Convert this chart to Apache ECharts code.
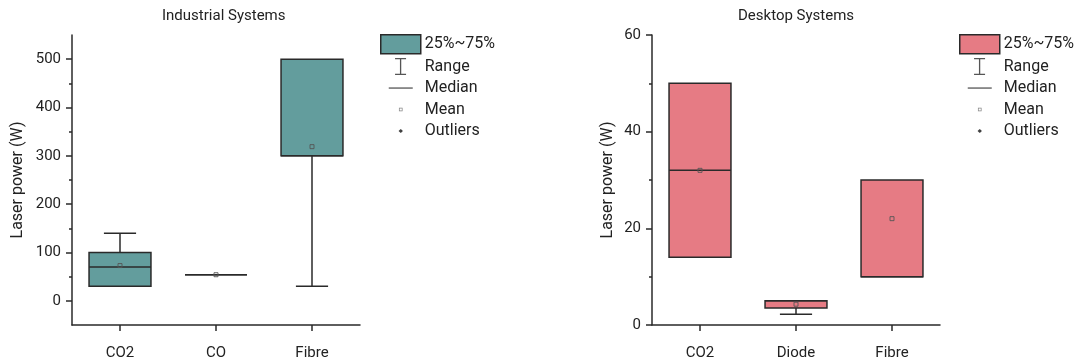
<!DOCTYPE html>
<html>
<head>
<meta charset="utf-8">
<script src="https://cdn.jsdelivr.net/npm/echarts@6.0.0/dist/echarts.min.js"></script>
<style>
html,body{margin:0;padding:0;background:#fff;}
#chart{width:1085px;height:363px;}
</style>
</head>
<body>
<div id="chart"></div>
<script>
// ---- data ----
const industrialCategories = ['CO2', 'CO', 'Fibre'];
const industrialMin    = [30, 54, 30];
const industrialQ1     = [30, 54, 300];
const industrialMedian = [70, 54, 300];
const industrialQ3     = [100, 54, 500];
const industrialMax    = [140, 54, 500];
const industrialMean   = [73, 54, 319];

const desktopCategories = ['CO2', 'Diode', 'Fibre'];
const desktopMin    = [14, 2.2, 10];
const desktopQ1     = [14, 3.5, 10];
const desktopMedian = [32, 5, 10];
const desktopQ3     = [50, 5, 30];
const desktopMax    = [50, 5, 30];
const desktopMean   = [32, 4.3, 22];

const industrialLabelTicks = [0, 100, 200, 300, 400, 500];
const industrialMinorTicks = [50, 150, 250, 350, 450];
const desktopLabelTicks = [0, 20, 40, 60];
const desktopMinorTicks = [10, 30, 50];

const legendNames = ['25%~75%', 'Range', 'Median', 'Mean', 'Outliers'];

// ---- styles ----
const TEAL = '#639d9d';
const PINK = '#e67b84';
const INK = '#2a2a2a';
const FONT = 'Roboto';

function buildRows(mins, q1s, meds, q3s, maxs, means) {
  return mins.map((m, i) => [i, m, q1s[i], meds[i], q3s[i], maxs[i], means[i]]);
}

function makeRenderer(color) {
  return function (params, api) {
    const x = api.value(0);
    const vMin = api.value(1), vQ1 = api.value(2), vMed = api.value(3),
          vQ3 = api.value(4), vMax = api.value(5), vMean = api.value(6);
    const band = api.size([1, 0])[0];
    const bw = band * 0.645, cw = band * 0.335;
    const pMin = api.coord([x, vMin]), pQ1 = api.coord([x, vQ1]), pMed = api.coord([x, vMed]),
          pQ3 = api.coord([x, vQ3]), pMax = api.coord([x, vMax]), pMean = api.coord([x, vMean]);
    const cx = pQ1[0];
    const ls = { stroke: INK, lineWidth: 1.5, fill: null };
    const ch = [];
    if (vMax > vQ3) {
      ch.push({ type: 'line', shape: { x1: cx, y1: pQ3[1], x2: cx, y2: pMax[1] }, style: ls });
      ch.push({ type: 'line', shape: { x1: cx - cw / 2, y1: pMax[1], x2: cx + cw / 2, y2: pMax[1] }, style: ls });
    }
    if (vMin < vQ1) {
      ch.push({ type: 'line', shape: { x1: cx, y1: pQ1[1], x2: cx, y2: pMin[1] }, style: ls });
      ch.push({ type: 'line', shape: { x1: cx - cw / 2, y1: pMin[1], x2: cx + cw / 2, y2: pMin[1] }, style: ls });
    }
    ch.push({ type: 'rect', shape: { x: cx - bw / 2, y: pQ3[1], width: bw, height: pQ1[1] - pQ3[1] },
              style: { fill: color, stroke: INK, lineWidth: 1.5 } });
    ch.push({ type: 'line', shape: { x1: cx - bw / 2, y1: pMed[1], x2: cx + bw / 2, y2: pMed[1] }, style: ls });
    ch.push({ type: 'rect', shape: { x: cx - 2, y: pMean[1] - 2, width: 4, height: 4 },
              style: { fill: null, stroke: '#555', lineWidth: 0.9 } });
    return { type: 'group', children: ch };
  };
}

const axisLineStyle = { color: INK, width: 1.5 };
const labelStyle = { color: '#222', fontSize: 15, fontFamily: FONT };

function legendFor(left, color) {
  return {
    orient: 'vertical', left: left, top: 34, padding: 0,
    itemWidth: 40, itemHeight: 19, itemGap: 2.5, selectedMode: false,
    textStyle: { color: '#222', fontSize: 16, fontFamily: FONT, padding: [0, 0, 0, -1] },
    data: [
      { name: legendNames[0], icon: 'rect', itemStyle: { color: color, borderColor: INK, borderWidth: 1.5 } },
      { name: legendNames[1], icon: 'path://M0 0M40 19M14.3 1h11v1.3h-11zM19.2 1.5h1.3v16h-1.3zM14.3 16.8h11v1.3h-11z', itemStyle: { color: INK, borderWidth: 0 } },
      { name: legendNames[2], icon: 'path://M0 0M40 19M8 8.9h24v1.3h-24z', itemStyle: { color: INK, borderWidth: 0 } },
      { name: legendNames[3], icon: 'path://M0 0M40 19M18.2 7.7h3.6v3.6h-3.6zM18.9 8.4v2.2h2.2v-2.2z', itemStyle: { color: '#666', borderWidth: 0 } },
      { name: legendNames[4], icon: 'path://M0 0M40 19M20 7.4L22.2 9.5L20 11.6L17.8 9.5z', itemStyle: { color: '#111', borderWidth: 0 } }
    ]
  };
}

function valueAxis(grid, min, max, interval, labels, name, nameGap) {
  return {
    type: 'value', gridIndex: grid, position: 'left', min: min, max: max, interval: interval,
    name: name, nameLocation: 'middle', nameGap: nameGap,
    nameTextStyle: { color: '#222', fontSize: 16, fontFamily: FONT },
    axisLine: { show: true, onZero: false, lineStyle: axisLineStyle },
    axisTick: { show: true, inside: false, length: 6, lineStyle: axisLineStyle, customValues: labels },
    axisLabel: { margin: 11, customValues: labels, ...labelStyle },
    splitLine: { show: false }
  };
}
function minorAxis(grid, min, max, interval, ticks) {
  return {
    type: 'value', gridIndex: grid, position: 'left', min: min, max: max, interval: interval,
    axisLine: { show: false, onZero: false },
    axisTick: { show: true, length: 3, lineStyle: axisLineStyle, customValues: ticks },
    axisLabel: { show: false },
    splitLine: { show: false }
  };
}
function catAxis(grid, cats) {
  return {
    type: 'category', gridIndex: grid, data: cats, boundaryGap: true, position: 'bottom',
    axisLine: { show: true, onZero: false, lineStyle: axisLineStyle },
    axisTick: { show: true, alignWithLabel: true, length: 6, lineStyle: axisLineStyle },
    axisLabel: { margin: 21, ...labelStyle },
    splitLine: { show: false }
  };
}

const chart = echarts.init(document.getElementById('chart'), null, { renderer: 'canvas' });
chart.setOption({
  animation: false,
  backgroundColor: '#fff',
  title: [
    { text: 'Industrial Systems', left: 162, top: 9, padding: 0,
      textStyle: { color: '#222', fontSize: 15, fontWeight: 'normal', fontFamily: FONT } },
    { text: 'Desktop Systems', left: 738, top: 9, padding: 0,
      textStyle: { color: '#222', fontSize: 15, fontWeight: 'normal', fontFamily: FONT } }
  ],
  legend: [legendFor(380, TEAL), legendFor(959, PINK)],
  grid: [
    { left: 72, top: 35, width: 288, height: 290 },
    { left: 652, top: 35, width: 288, height: 290 }
  ],
  xAxis: [catAxis(0, industrialCategories), catAxis(1, desktopCategories)],
  yAxis: [
    valueAxis(0, -50, 550, 50, industrialLabelTicks, 'Laser power (W)', 46),
    valueAxis(1, 0, 60, 10, desktopLabelTicks, 'Laser power (W)', 36),
    minorAxis(0, -50, 550, 50, industrialMinorTicks),
    minorAxis(1, 0, 60, 10, desktopMinorTicks)
  ],
  series: [
    { type: 'custom', name: legendNames[0], xAxisIndex: 0, yAxisIndex: 0, color: TEAL,
      renderItem: makeRenderer(TEAL),
      encode: { x: 0, y: [1, 2, 3, 4, 5, 6] },
      data: buildRows(industrialMin, industrialQ1, industrialMedian, industrialQ3, industrialMax, industrialMean) },
    { type: 'custom', name: legendNames[0], xAxisIndex: 1, yAxisIndex: 1, color: PINK,
      renderItem: makeRenderer(PINK),
      encode: { x: 0, y: [1, 2, 3, 4, 5, 6] },
      data: buildRows(desktopMin, desktopQ1, desktopMedian, desktopQ3, desktopMax, desktopMean) },
    { type: 'scatter', name: legendNames[1], xAxisIndex: 0, yAxisIndex: 0, data: [] },
    { type: 'scatter', name: legendNames[2], xAxisIndex: 0, yAxisIndex: 0, data: [] },
    { type: 'scatter', name: legendNames[3], xAxisIndex: 0, yAxisIndex: 0, data: [] },
    { type: 'scatter', name: legendNames[4], xAxisIndex: 0, yAxisIndex: 0, data: [] }
  ]
});
</script>
</body>
</html>
